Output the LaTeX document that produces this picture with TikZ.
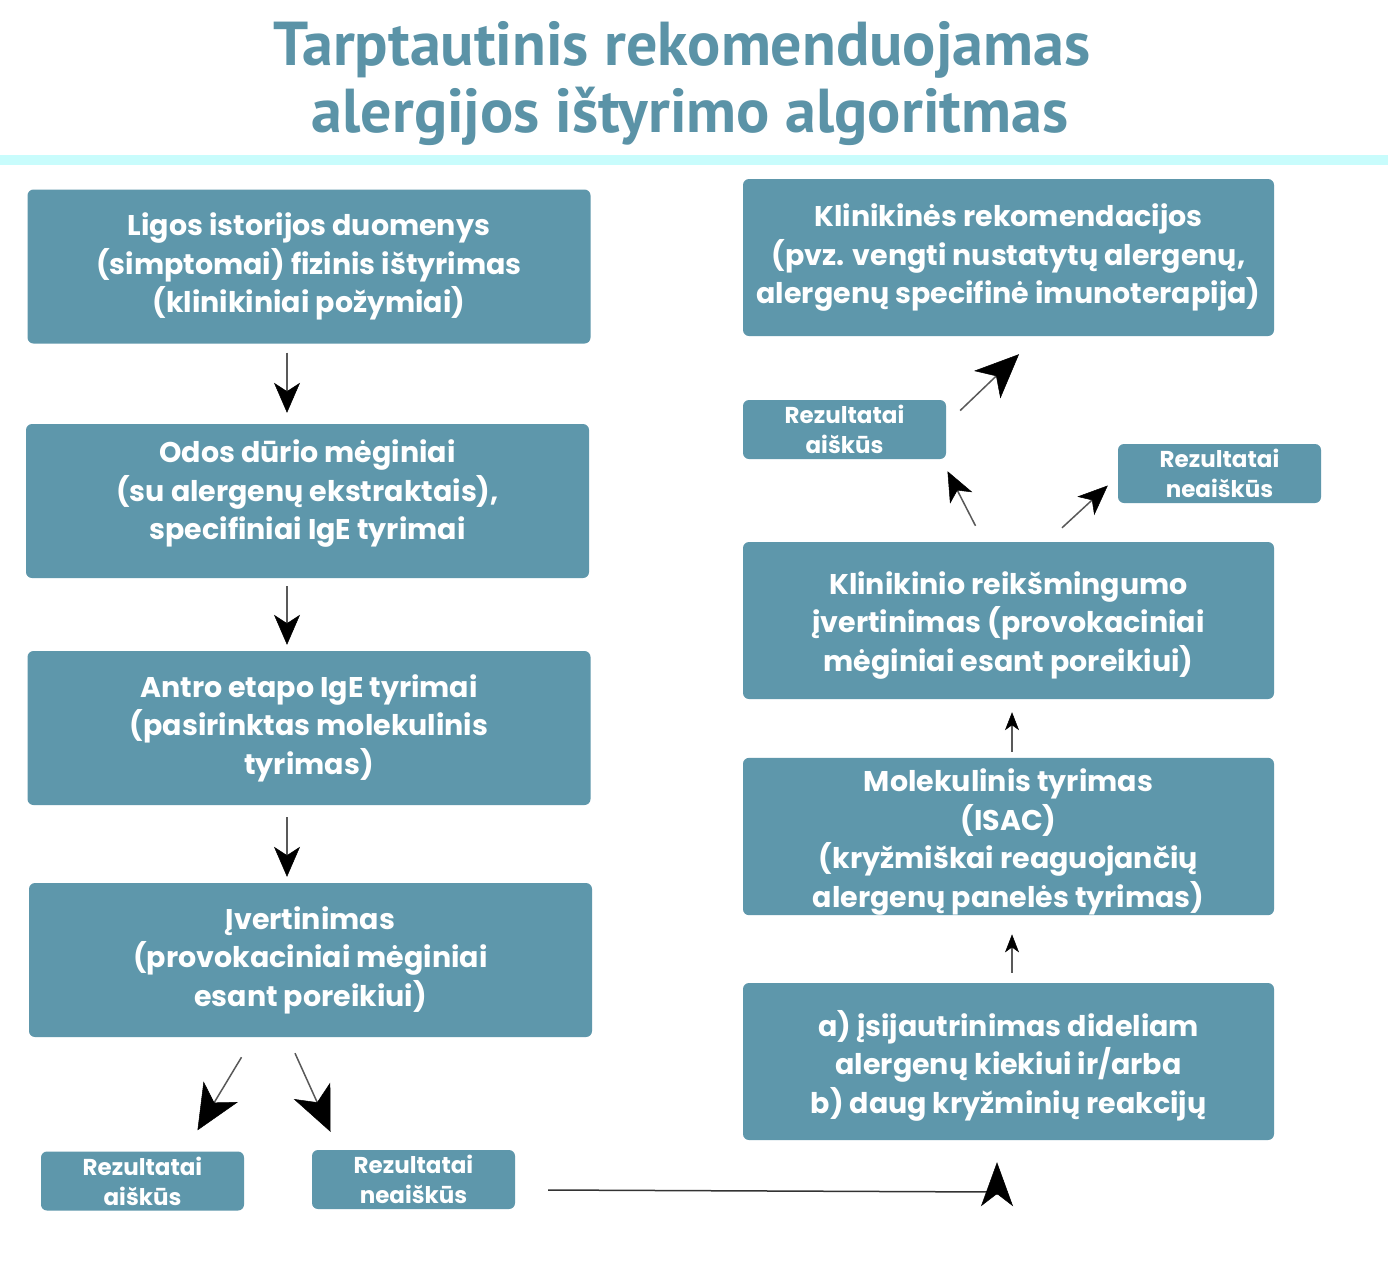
\documentclass[tikz,border=0pt]{standalone}
\usepackage{fontspec}
\setmainfont{Poppins}
\newfontfamily\titlefont{PT Sans}
\usetikzlibrary{arrows.meta,calc}
\definecolor{boxc}{HTML}{5E97AB}
\definecolor{titlec}{HTML}{5B93A7}
\definecolor{bandc}{HTML}{C8FCFC}
\tikzset{
  box/.style={fill=boxc, rounded corners=6pt, text=white, align=center, inner sep=0pt,
    font=\bfseries\fontsize{28.5}{38.5}\selectfont},
  bigbox/.style={box, minimum width=563pt, minimum height=154pt},
  rbox/.style={box, minimum width=531pt, minimum height=157pt},
  smallbox/.style={box, minimum width=203pt, minimum height=59pt,
    font=\bfseries\fontsize{23}{30}\selectfont},
  arr/.style 2 args={line width=1.5pt, draw=black!65,
    -{Stealth[length=#1,width=#2,inset=0.28*#1,color=black,fill=black,line width=0.5pt]}},
  ttl/.style={text=titlec, font=\titlefont\bfseries\fontsize{62}{66}\selectfont}
}
\begin{document}
\begin{tikzpicture}[x=1pt,y=-1pt]
\useasboundingbox (0,0) rectangle (1388,1262);
\fill[white] (0,0) rectangle (1388,1262);
\fill[bandc] (0,155) rectangle (1388,165);
\node[ttl] (t1) at (682,50) {Tarptautinis rekomenduojamas};
\node[ttl] (t2) at (690,116) {alergijos ištyrimo algoritmas};

\node[bigbox] (L1) at (309,266.5) {Ligos istorijos duomenys\\(simptomai) fizinis ištyrimas\\(klinikiniai požymiai)};
\node[bigbox] (L2) at (307.5,501) {Odos dūrio mėginiai\\(su alergenų ekstraktais),\\specifiniai IgE tyrimai\rule[-22pt]{0pt}{22pt}};
\node[bigbox] (L3) at (309,728) {Antro etapo IgE tyrimai\\(pasirinktas molekulinis\\tyrimas)};
\node[bigbox] (L4) at (310.5,960) {Įvertinimas\\(provokaciniai mėginiai\\esant poreikiui)};
\node[smallbox] (A) at (142.5,1181) {Rezultatai\\aiškūs};
\node[smallbox] (B) at (413.5,1179.5) {Rezultatai\\neaiškūs};

\node[rbox] (R1) at (1008.5,257.5) {Klinikinės rekomendacijos\\(pvz. vengti nustatytų alergenų,\\alergenų specifinė imunoterapija)};
\node[smallbox] (RA) at (844.5,429.5) {Rezultatai\\aiškūs};
\node[smallbox] (RB) at (1219.5,473.5) {Rezultatai\\neaiškūs};
\node[rbox] (R2) at (1008.5,620.5) {\rule{0pt}{32pt}Klinikinio reikšmingumo\\įvertinimas (provokaciniai\\mėginiai esant poreikiui)};
\node[rbox] (R3) at (1008.5,836.5) {\rule{0pt}{34pt}Molekulinis tyrimas\\(ISAC)\\(kryžmiškai reaguojančių\\alergenų panelės tyrimas)};
\node[rbox] (R4) at (1008.5,1061.5) {\rule{0pt}{34pt}a) įsijautrinimas dideliam\\alergenų kiekiui ir/arba\\b) daug kryžminių reakcijų};

\draw[arr={30pt}{26pt}] ($(L1.south)+(-22,9)$) -- ($(L2.north)+(-20.5,-11)$);
\draw[arr={30pt}{26pt}] ($(L2.south)+(-20.5,8)$) -- ($(L3.north)+(-22,-6)$);
\draw[arr={30pt}{26pt}] ($(L3.south)+(-22,12)$) -- ($(L4.north)+(-23.5,-6)$);
\draw[arr={45pt}{40pt}] ($(L4.south)+(-69,20)$) -- ($(A.north)+(55,-21)$);
\draw[arr={45pt}{40pt}] ($(L4.south)+(-15.5,16)$) -- ($(B.north)+(-83,-18)$);
\coordinate (c1) at (997,1192);
\draw[line width=1.5pt, draw=black!80] ($(B.east)+(33,10.5)$) -- (c1);
\draw[arr={44pt}{32pt}] ($(c1)+(0,2)$) -- ($(R4.south)+(-11.5,22)$);
\draw[arr={18pt}{14pt}] ($(R4.north)+(3.5,-10)$) -- ($(R3.south)+(3.5,19)$);
\draw[arr={18pt}{14pt}] ($(R3.north)+(3.5,-6)$) -- ($(R2.south)+(3.5,13)$);
\draw[arr={30pt}{25pt}] ($(R2.north)+(-33,-16)$) -- ($(RA.south)+(103,12)$);
\draw[arr={30pt}{25pt}] ($(R2.north)+(53.5,-14)$) -- ($(RB.west)+(-10,12)$);
\draw[arr={44pt}{38pt}] ($(RA.east)+(14,-19)$) -- ($(R1.south)+(10.5,18)$);
\end{tikzpicture}
\end{document}
